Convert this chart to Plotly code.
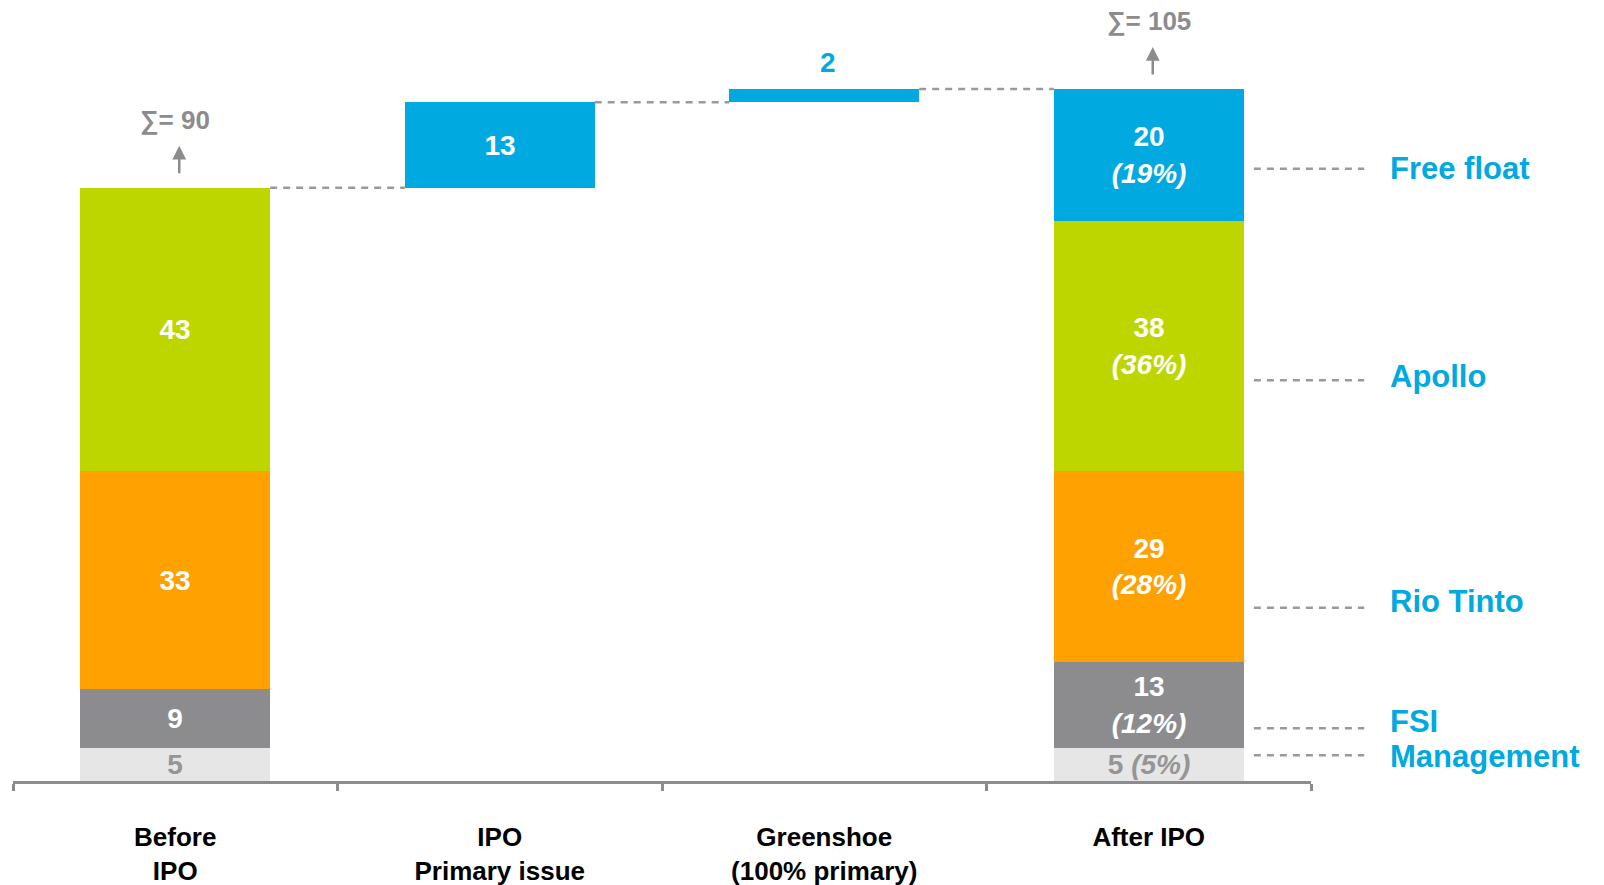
import plotly.graph_objects as go
import numpy as np

# ---------------- data ----------------
categories = ["Before<br>IPO", "IPO<br>Primary issue", "Greenshoe<br>(100% primary)", "After IPO"]
holders = ["Management", "FSI", "Rio Tinto", "Apollo", "Free float"]
before_ipo = [5, 9, 33, 43, 0]
after_ipo = [5, 13, 29, 38, 20]
after_pct = [5, 12, 28, 36, 19]
primary_issue = 13
greenshoe = 2
before_total = 90
after_total = 105

# ---------------- style ----------------
FONT = "Liberation Sans"
BLUE = "#00A9E0"
GREY = "#8C8C8E"
DASH_GREY = "#9A9A9A"
colors = ["#E6E6E6", "#8C8C8E", "#FFA100", "#BED600", "#00A9E0"]
text_colors = ["#959595", "white", "white", "white", "white"]
BAR_W = 0.585
legend_text_y = [3.7, 9.0, 27.3, 61.4, 92.9]   # label anchor positions (layout)
legend_line_y = [3.9, 8.0, 26.3, 60.8, 92.9]

fig = go.Figure()

cum_before = np.concatenate([[0], np.cumsum(before_ipo)[:-1]])
cum_after = np.concatenate([[0], np.cumsum(after_ipo)[:-1]])

for i, h in enumerate(holders):
    xs, ys, bases, texts = [], [], [], []
    if before_ipo[i] > 0:
        xs.append(categories[0]); ys.append(before_ipo[i]); bases.append(cum_before[i])
        texts.append(f"<b>{before_ipo[i]}</b>")
    xs.append(categories[3]); ys.append(after_ipo[i]); bases.append(cum_after[i])
    if h == "Management":
        texts.append(f"<b>{after_ipo[i]} <i>({after_pct[i]}%)</i></b>")
    else:
        texts.append(f"<b>{after_ipo[i]}</b><br><b><i>({after_pct[i]}%)</i></b>")
    fig.add_trace(go.Bar(
        x=xs, y=ys, base=bases, name=h, width=BAR_W,
        marker=dict(color=colors[i], line=dict(width=0)),
        text=texts, textposition="inside", insidetextanchor="middle", textangle=0,
        constraintext="none",
        textfont=dict(family=FONT, size=28, color=text_colors[i]),
        hoverinfo="skip", showlegend=False,
    ))

# IPO primary issue
fig.add_trace(go.Bar(
    x=[categories[1]], y=[primary_issue], base=[before_total], width=BAR_W,
    marker=dict(color=BLUE, line=dict(width=0)),
    text=[f"<b>{primary_issue}</b>"], textposition="inside", insidetextanchor="middle", textangle=0,
    constraintext="none",
    textfont=dict(family=FONT, size=28, color="white"), showlegend=False, hoverinfo="skip",
))
# Greenshoe
fig.add_trace(go.Bar(
    x=[categories[2]], y=[greenshoe], base=[before_total + primary_issue], width=BAR_W,
    marker=dict(color=BLUE, line=dict(width=0)), showlegend=False, hoverinfo="skip",
))

annotations = []
shapes = []

# greenshoe value label
annotations.append(dict(x=categories[2], y=before_total + primary_issue + greenshoe, xref="x", yref="y",
                        text=f"<b>{greenshoe}</b>", showarrow=False, yanchor="middle", yshift=26,
                        xshift=4, font=dict(family=FONT, size=28, color=BLUE)))

# totals with arrows
for cat, tot in [(categories[0], before_total), (categories[3], after_total)]:
    annotations.append(dict(x=cat, y=tot, xref="x", yref="y", text=f"<b>∑= {tot}</b>",
                            showarrow=False, yanchor="middle", yshift=68,
                            font=dict(family=FONT, size=26, color=GREY)))
    annotations.append(dict(x=cat, y=tot + 42 / 6.59, xref="x", yref="y", text="",
                            showarrow=True, arrowhead=2, arrowsize=1.1, arrowwidth=2.5,
                            arrowcolor=GREY, ax=0, ay=29, xshift=4, standoff=0, startstandoff=0))

# connectors (paper coords computed from category index)
def px(i):
    return (i + 0.5) / 4.0
hw = BAR_W / 2 / 4.0
levels = [before_total, before_total + primary_issue, before_total + primary_issue + greenshoe]
for i, lv in enumerate(levels):
    shapes.append(dict(type="line", xref="paper", yref="y", x0=px(i) + hw, x1=px(i + 1) - hw,
                       y0=lv, y1=lv, line=dict(color=DASH_GREY, width=2.5, dash="7px,6px")))

# right-side labels
for i, h in enumerate(holders):
    shapes.append(dict(type="line", xref="paper", yref="y", x0=0.956, x1=1.041,
                       y0=legend_line_y[i], y1=legend_line_y[i],
                       line=dict(color=DASH_GREY, width=2.5, dash="7px,6px")))
    annotations.append(dict(x=1.0595, y=legend_text_y[i], xref="paper", yref="y", text=f"<b>{h}</b>",
                            showarrow=False, xanchor="left", yanchor="middle",
                            font=dict(family=FONT, size=31, color=BLUE)))

fig.update_layout(
    width=1604, height=885,
    margin=dict(l=13, r=293, t=0, b=104),
    paper_bgcolor="white", plot_bgcolor="white",
    barmode="overlay", bargap=0,
    annotations=annotations, shapes=shapes,
    xaxis=dict(type="category", categoryorder="array", categoryarray=categories,
               range=[-0.5, 3.5], tickson="boundaries", ticks="outside", ticklen=7, tickwidth=3,
               tickcolor=GREY, showline=True, linecolor=GREY, linewidth=3, showgrid=False,
               tickfont=dict(family=FONT, size=26, color="black", weight="bold"),
               ticklabelstandoff=31, fixedrange=True),
    yaxis=dict(range=[0, 118.5], visible=False, showgrid=False, zeroline=False, fixedrange=True),
    font=dict(family=FONT),
)

fig.write_html("out.html")
